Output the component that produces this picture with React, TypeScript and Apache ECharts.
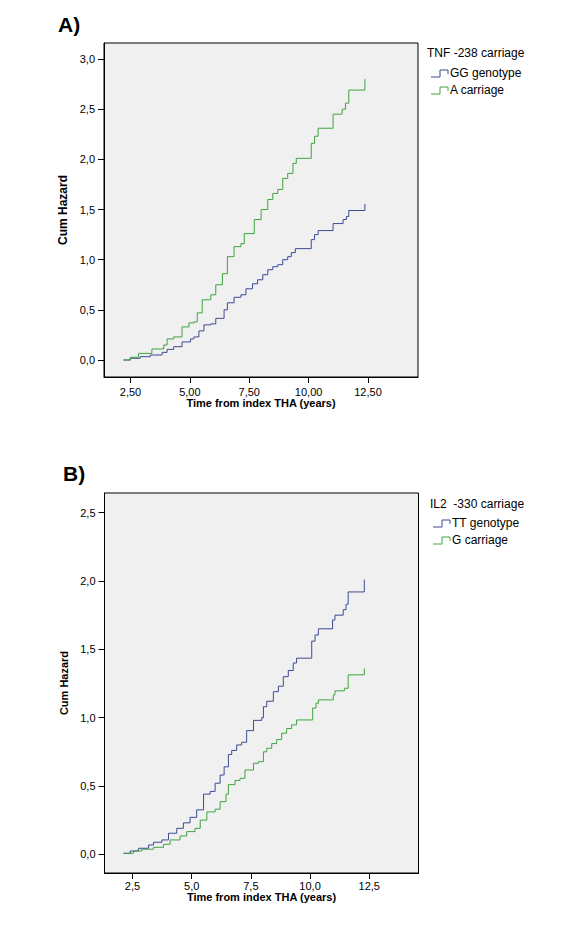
import React, { useEffect, useRef } from "react";
import * as echarts from "echarts";

// Panel A: TNF -238 carriage
const aTicksX = [2.5, 5, 7.5, 10, 12.5];
const aTicksY = [0, 0.5, 1, 1.5, 2, 2.5, 3];
const aGGTime = [2.2, 2.49, 2.91, 3.33, 3.83, 4.04, 4.32, 4.67, 5.03, 5.17, 5.38, 5.59, 5.88, 6.09, 6.44, 6.58, 6.86, 7.15, 7.36, 7.64, 7.85, 8.07, 8.28, 8.49, 8.7, 8.91, 9.12, 9.27, 9.44, 10.11, 10.25, 10.4, 11.03, 11.45, 11.59, 11.69, 12.37, 12.37];
const aGGHazard = [0, 0.017, 0.033, 0.05, 0.076, 0.106, 0.133, 0.18, 0.21, 0.23, 0.29, 0.35, 0.36, 0.415, 0.5, 0.57, 0.625, 0.65, 0.71, 0.76, 0.8, 0.85, 0.9, 0.93, 0.95, 1.0, 1.03, 1.07, 1.11, 1.2, 1.25, 1.29, 1.36, 1.4, 1.43, 1.49, 1.49, 1.555];
const aATime = [2.2, 2.49, 2.84, 3.4, 3.9, 4.04, 4.32, 4.67, 4.96, 5.17, 5.31, 5.52, 5.88, 6.09, 6.37, 6.58, 6.86, 7.15, 7.29, 7.71, 8.0, 8.28, 8.49, 8.7, 8.91, 9.12, 9.34, 9.48, 10.11, 10.25, 10.4, 11.03, 11.41, 11.55, 11.69, 12.37, 12.37];
const aAHazard = [0, 0.027, 0.066, 0.11, 0.15, 0.21, 0.23, 0.33, 0.37, 0.38, 0.47, 0.6, 0.65, 0.75, 0.86, 1.03, 1.13, 1.16, 1.26, 1.4, 1.5, 1.6, 1.66, 1.7, 1.81, 1.86, 1.96, 2.01, 2.16, 2.23, 2.31, 2.45, 2.5, 2.56, 2.69, 2.69, 2.8];

// Panel B: IL2 -330 carriage
const bTicksX = [2.5, 5, 7.5, 10, 12.5];
const bTicksY = [0, 0.5, 1, 1.5, 2, 2.5];
const bTTTime = [2.12, 2.4, 2.75, 3.18, 3.39, 3.74, 4.02, 4.37, 4.65, 4.93, 5.21, 5.5, 5.78, 5.99, 6.2, 6.37, 6.55, 6.69, 6.9, 7.11, 7.32, 7.61, 7.96, 8.03, 8.17, 8.45, 8.66, 8.87, 9.08, 9.29, 9.43, 10.07, 10.21, 10.35, 10.95, 11.05, 11.4, 11.52, 11.61, 12.29, 12.29];
const bTTHazard = [0.007, 0.024, 0.044, 0.068, 0.088, 0.105, 0.154, 0.19, 0.23, 0.27, 0.325, 0.44, 0.46, 0.52, 0.58, 0.64, 0.73, 0.76, 0.8, 0.82, 0.905, 0.98, 1.0, 1.08, 1.12, 1.19, 1.23, 1.3, 1.345, 1.4, 1.435, 1.56, 1.605, 1.65, 1.715, 1.75, 1.79, 1.83, 1.92, 1.92, 2.01];
const bGTime = [2.12, 2.54, 2.89, 3.39, 3.81, 4.09, 4.51, 4.79, 5.14, 5.36, 5.64, 5.99, 6.2, 6.45, 6.55, 6.83, 7.04, 7.25, 7.61, 7.82, 8.03, 8.17, 8.38, 8.59, 8.8, 9.01, 9.22, 9.43, 10.11, 10.25, 10.35, 10.98, 11.05, 11.45, 11.61, 12.29, 12.29];
const bGHazard = [0.007, 0.024, 0.037, 0.051, 0.073, 0.105, 0.134, 0.166, 0.19, 0.25, 0.31, 0.33, 0.385, 0.44, 0.51, 0.54, 0.556, 0.617, 0.666, 0.678, 0.75, 0.776, 0.81, 0.84, 0.886, 0.92, 0.947, 0.983, 1.07, 1.105, 1.13, 1.166, 1.196, 1.215, 1.313, 1.313, 1.36];

const BLUE = "#3d4b94";
const GREEN = "#3fa43f";
const FONT = "'Liberation Sans', Arial, sans-serif";

const pairs = (t: number[], h: number[]) => t.map((v, i) => [v, h[i]]);

function stepSeries(name: string, idx: number, t: number[], h: number[], color: string) {
  return {
    name,
    type: "line",
    step: "end",
    xAxisIndex: idx,
    yAxisIndex: idx,
    data: pairs(t, h),
    showSymbol: false,
    symbol: "none",
    silent: true,
    lineStyle: { color, width: 1 },
    itemStyle: { color },
  };
}

function legendIcon(x: number, cy: number, color: string) {
  return {
    type: "polyline",
    shape: { points: [[x, cy + 4], [x + 9, cy + 4], [x + 9, cy - 3], [x + 17, cy - 3], [x + 17, cy + 1]] },
    style: { stroke: color, lineWidth: 1, fill: null },
  };
}

function txt(x: number, y: number, text: string, size: number, bold = false) {
  return {
    type: "text",
    x,
    y,
    style: {
      text,
      fontSize: size,
      fontWeight: bold ? "bold" : "normal",
      fontFamily: FONT,
      fill: "#000",
      textVerticalAlign: "middle",
      textAlign: "left",
    },
  };
}

export default function App() {
  const ref = useRef<HTMLDivElement>(null);
  useEffect(() => {
    if (!ref.current) return;
    const chart = echarts.init(ref.current, undefined, { renderer: "svg" });
    const xAxisBase = (idx: number, min: number, max: number, ticks: number[], dec: number, margin: number, gap: number) => ({
      type: "value",
      gridIndex: idx,
      min,
      max,
      name: "Time from index THA (years)",
      nameLocation: "middle",
      nameGap: gap,
      nameTextStyle: { fontWeight: "bold", fontSize: 11, fontFamily: FONT, color: "#000" },
      axisLine: { show: true, onZero: false, lineStyle: { color: "#000", width: 1 } },
      axisTick: { show: true, inside: false, length: 6, customValues: ticks, lineStyle: { color: "#000", width: 1 } },
      axisLabel: {
        customValues: ticks,
        margin,
        fontSize: 11,
        fontFamily: FONT,
        color: "#000",
        formatter: (v: number) => v.toFixed(dec).replace(".", ","),
      },
      splitLine: { show: false },
    });
    const yAxisBase = (idx: number, min: number, max: number, ticks: number[], size: number) => ({
      type: "value",
      gridIndex: idx,
      min,
      max,
      name: "Cum Hazard",
      nameLocation: "middle",
      nameGap: 26,
      nameTextStyle: { fontWeight: "bold", fontSize: size, fontFamily: FONT, color: "#000" },
      axisLine: { show: true, onZero: false, lineStyle: { color: "#000", width: 1 } },
      axisTick: { show: true, inside: false, length: 6, customValues: ticks, lineStyle: { color: "#000", width: 1 } },
      axisLabel: {
        customValues: ticks,
        margin: 9,
        fontSize: 11,
        fontFamily: FONT,
        color: "#000",
        formatter: (v: number) => v.toFixed(1).replace(".", ","),
      },
      splitLine: { show: false },
    });
    chart.setOption({
      animation: false,
      backgroundColor: "#fff",
      grid: [
        { left: 104, top: 43, width: 314, height: 334, show: true, backgroundColor: "#f0f0f0", borderColor: "#000", borderWidth: 1 },
        { left: 104.5, top: 493, width: 314, height: 380, show: true, backgroundColor: "#f0f0f0", borderColor: "#000", borderWidth: 1 },
      ],
      xAxis: [
        xAxisBase(0, 1.384, 14.605, aTicksX, 2, 9, 20),
        xAxisBase(1, 1.317, 14.58, bTicksX, 1, 7, 17),
      ],
      yAxis: [
        yAxisBase(0, -0.1694, 3.1595, aTicksY, 12),
        yAxisBase(1, -0.137, 2.644, bTicksY, 11),
      ],
      series: [
        stepSeries("GG genotype", 0, aGGTime, aGGHazard, BLUE),
        stepSeries("A carriage", 0, aATime, aAHazard, GREEN),
        stepSeries("TT genotype", 1, bTTTime, bTTHazard, BLUE),
        stepSeries("G carriage", 1, bGTime, bGHazard, GREEN),
      ],
      graphic: [
        txt(58, 24, "A)", 21, true),
        txt(63, 473, "B)", 21, true),
        txt(427, 53, "TNF -238 carriage", 12),
        legendIcon(431, 73, BLUE),
        txt(450, 73, "GG genotype", 12),
        legendIcon(431, 90, GREEN),
        txt(450, 90, "A carriage", 12),
        txt(430, 504, "IL2  -330 carriage", 12),
        legendIcon(433, 523, BLUE),
        txt(452, 523, "TT genotype", 12),
        legendIcon(433, 540, GREEN),
        txt(452, 540, "G carriage", 12),
      ],
    });
    return () => chart.dispose();
  }, []);
  return <div ref={ref} style={{ position: "absolute", left: 0, top: 0, width: 572, height: 947 }} />;
}
